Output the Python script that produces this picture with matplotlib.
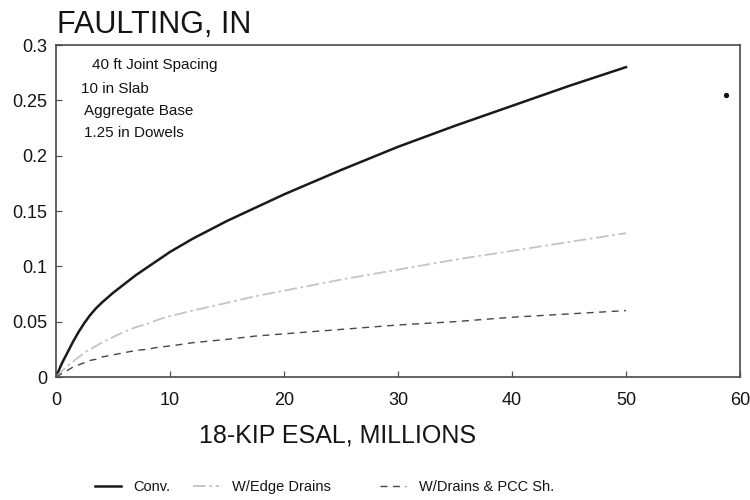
import matplotlib
matplotlib.use("Agg")
import matplotlib.pyplot as plt
from matplotlib.ticker import FixedLocator, FixedFormatter

plt.rcParams["font.family"] = ["Liberation Sans", "DejaVu Sans"]

# ESAL (millions) and faulting (in) for each design
esal = [0, 0.5, 1, 1.5, 2, 2.5, 3, 3.5, 4, 5, 6, 7, 8, 9, 10, 12, 15, 17.5,
        20, 25, 30, 35, 40, 45, 50]
conv = [0, 0.012, 0.022, 0.032, 0.041, 0.049, 0.056, 0.062, 0.067, 0.076,
        0.084, 0.092, 0.099, 0.106, 0.113, 0.125, 0.141, 0.153, 0.165,
        0.187, 0.208, 0.227, 0.245, 0.263, 0.280]
edge_drains = [0, 0.005, 0.010, 0.014, 0.018, 0.022, 0.025, 0.028, 0.031,
               0.036, 0.041, 0.045, 0.048, 0.052, 0.055, 0.060, 0.067, 0.073,
               0.078, 0.088, 0.097, 0.106, 0.114, 0.122, 0.130]
drains_pcc = [0, 0.003, 0.006, 0.009, 0.011, 0.013, 0.015, 0.016, 0.018,
              0.020, 0.022, 0.024, 0.025, 0.027, 0.028, 0.031, 0.034, 0.037,
              0.039, 0.043, 0.047, 0.050, 0.054, 0.057, 0.060]

# isolated point plotted at the right of the chart
stray_x = [58.8]
stray_y = [0.255]

series_labels = ["Conv.", "W/Edge Drains", "W/Drains & PCC Sh."]
notes = ["40 ft Joint Spacing", "10 in Slab", "Aggregate Base", "1.25 in Dowels"]
note_x = [3.2, 2.2, 2.5, 2.5]
note_y = [0.2785, 0.2565, 0.2365, 0.2165]

x_ticks = [0, 10, 20, 30, 40, 50, 60]
y_ticks = [0, 0.05, 0.1, 0.15, 0.2, 0.25, 0.3]
y_tick_labels = ["0", "0.05", "0.1", "0.15", "0.2", "0.25", "0.3"]

fig = plt.figure(figsize=(7.5, 5), dpi=100)
ax = fig.add_axes([56 / 750, 1 - 377 / 500, 684 / 750, 332 / 500])

ink = "#141414"
lines = []
lines += ax.plot(esal, conv, color="#1a1a1a", lw=1.8, label=series_labels[0])
lines += ax.plot(esal, edge_drains, color="#c4c4c4", lw=1.3,
                 linestyle=(0, (7, 2, 1.5, 2)), label=series_labels[1])
lines += ax.plot(esal, drains_pcc, color="#474747", lw=1.0,
                 linestyle=(0, (5, 4)), label=series_labels[2])
ax.plot(stray_x, stray_y, "o", color="#111111", ms=2.8)

ax.set_xlim(0, 60)
ax.set_ylim(0, 0.3)
ax.xaxis.set_major_locator(FixedLocator(x_ticks))
ax.yaxis.set_major_locator(FixedLocator(y_ticks))
ax.yaxis.set_major_formatter(FixedFormatter(y_tick_labels))
ax.tick_params(axis="both", direction="in", length=4, width=0.9,
               color="#555555", labelsize=13, labelcolor=ink)
ax.tick_params(axis="x", pad=11)
ax.tick_params(axis="y", pad=6)
for side in ax.spines.values():
    side.set_color("#4a4a4a")
    side.set_linewidth(1.2)

for txt, tx, ty in zip(notes, note_x, note_y):
    ax.text(tx, ty, txt, fontsize=11, color=ink, va="baseline", ha="left")

fig.text(57 / 750, 1 - 33 / 500, "FAULTING, IN", fontsize=22, color=ink,
         ha="left", va="baseline")
fig.text(338 / 750, 1 - 442 / 500, "18-KIP ESAL, MILLIONS", fontsize=18,
         color=ink, ha="center", va="baseline")

# one legend entry per series, spaced along the bottom of the figure
legend_left_px = [95, 193, 380]
for ln, lab, px in zip(lines, series_labels, legend_left_px):
    fig.legend([ln], [lab], loc="center left",
               bbox_to_anchor=(px / 750, 1 - 487 / 500),
               frameon=False, fontsize=10.5, handlelength=1.8,
               handletextpad=0.85, borderpad=0, borderaxespad=0,
               labelcolor=ink)

fig.savefig("out.png", dpi=100)
